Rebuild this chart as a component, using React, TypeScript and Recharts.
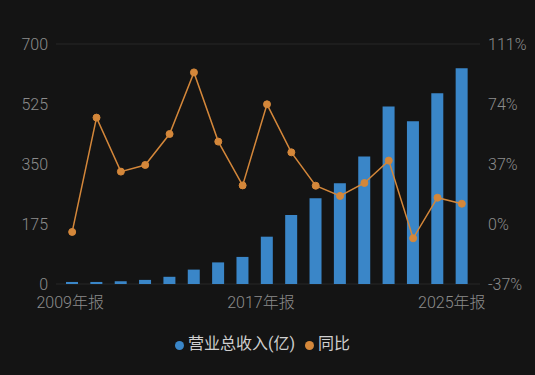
import React from 'react';
import {
    ComposedChart,
    Bar,
    Line,
    XAxis,
    YAxis,
    CartesianGrid,
    Legend,
} from 'recharts';

const years = ['2009', '2010', '2011', '2012', '2013', '2014', '2015', '2016', '2017',
    '2018', '2019', '2020', '2021', '2022', '2023', '2024', '2025'];
const revenue = [6, 6, 8, 12, 21, 42, 63, 79, 138, 201, 250, 294, 372, 518, 475, 556, 629];
const yoy = [-4.9, 65.6, 32.3, 36.4, 55.5, 93.5, 50.8, 23.8, 73.8, 44.2, 23.6, 17.3, 25.3, 39.1, -8.8, 16.2, 12.5];
const leftTicks = [0, 175, 350, 525, 700];
const rightTicks = [-37, 0, 37, 74, 111];

const data = years.map((year, i) => ({ year, revenue: revenue[i], yoy: yoy[i] }));

const FONT = "Roboto, 'Noto Sans CJK SC', sans-serif";
const AXIS_COLOR = '#8c8c8c';

// x labels are nudged a little left, the last one most
const XTick = (props: any) => {
    const { x, y, payload, index } = props;
    const dx = [-2, -6, -10][index] ?? 0;
    return (
        <text x={x + dx} y={y} dy={16} textAnchor="middle" fill={AXIS_COLOR} fontSize={16} fontWeight={300} fontFamily={FONT}>
            {payload.value}年报
        </text>
    );
};

const App = () => {
    return (
        <div style={{ position: 'fixed', left: 0, top: 0, width: 535, height: 375, background: '#141414' }}>
            <ComposedChart
                width={535}
                height={375}
                data={data}
                margin={{ top: 44, right: 0, left: 0, bottom: 20 }}
            >
                <CartesianGrid vertical={false} stroke="#262626" />
                <XAxis
                    dataKey="year"
                    interval={7}
                    tick={<XTick />}
                    tickLine={false}
                    axisLine={false}
                    height={30}
                    padding={{ left: 4, right: 6 }}
                />
                <YAxis
                    yAxisId="left"
                    domain={[0, 700]}
                    ticks={leftTicks}
                    width={56}
                    tickLine={false}
                    axisLine={false}
                    tickMargin={2}
                    tick={{ fill: AXIS_COLOR, fontSize: 16, fontWeight: 300, fontFamily: FONT }}
                />
                <YAxis
                    yAxisId="right"
                    orientation="right"
                    domain={[-37, 111]}
                    ticks={rightTicks}
                    width={55}
                    tickLine={false}
                    axisLine={false}
                    tickMargin={2}
                    tickFormatter={(v) => `${v}%`}
                    tick={{ fill: AXIS_COLOR, fontSize: 16, fontWeight: 300, fontFamily: FONT }}
                />
                <Legend
                    verticalAlign="bottom"
                    height={41}
                    iconType="circle"
                    iconSize={9}
                    itemSorter="dataKey"
                    wrapperStyle={{ bottom: 4 }}
                    formatter={(value) => (
                        <span style={{ color: '#cfcfcf', fontSize: 16, fontFamily: FONT }}>{value}</span>
                    )}
                />
                <Bar
                    yAxisId="left"
                    dataKey="revenue"
                    name="营业总收入(亿)"
                    fill="#3a86c8"
                    barSize={12}
                    isAnimationActive={false}
                />
                <Line
                    yAxisId="right"
                    dataKey="yoy"
                    name="同比"
                    stroke="#d4873a"
                    strokeWidth={1.5}
                    dot={{ r: 3.5, fill: '#d4873a', stroke: '#d4873a', strokeWidth: 1 }}
                    activeDot={false}
                    isAnimationActive={false}
                />
            </ComposedChart>
        </div>
    );
};

export default App;
